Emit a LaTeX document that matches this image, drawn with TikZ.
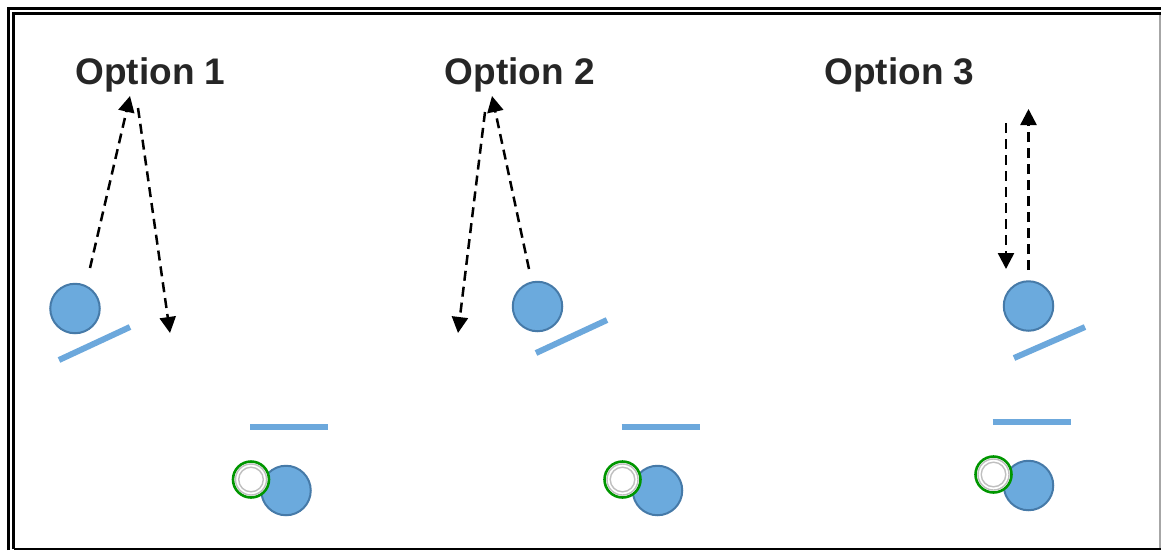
\documentclass[tikz,border=0pt]{standalone}
\usepackage{fontspec}
\setmainfont{Liberation Sans}
\usetikzlibrary{arrows.meta,positioning}

\definecolor{ballblue}{RGB}{107,170,221}
\definecolor{balledge}{RGB}{70,122,168}
\definecolor{barblue}{RGB}{108,168,220}
\definecolor{ringgreen}{RGB}{0,150,0}
\definecolor{titlegray}{RGB}{38,38,38}

\tikzset{
  ball/.style={circle,fill=ballblue,draw=balledge,line width=2pt,minimum size=49.5pt,inner sep=0pt},
  mirror/.style={draw=barblue,line width=6pt},
  ray/.style={dash pattern=on 10pt off 6pt,line width=2.5pt,-{Triangle[width=16pt,length=16pt]}},
  title/.style={font=\bfseries\fontsize{37}{40}\selectfont,text=titlegray,anchor=base},
  detector/.style={circle,draw=ringgreen,line width=2.6pt,fill=white,minimum size=36pt,inner sep=0pt},
  ring/.style={draw=gray!50,line width=1.4pt}
}

\begin{document}
\begin{tikzpicture}[x=1pt,y=-1pt]
\useasboundingbox (0,0) rectangle (1161,550);

% frame
\draw[line width=2.4pt] (8.5,550) -- (8.5,8.5) -- (1161,8.5);
\draw[line width=3pt] (13.8,549) -- (13.8,13.8) -- (1161,13.8);
\draw[line width=1.8pt] (13.8,549.2) -- (1161,549.2);
\draw[gray!70,line width=1.5pt] (1160.2,15) -- (1160.2,548);

% titles
\node[title] (opt1) at (150.5,84) {Option 1};
\node[title] (opt2) at (520,84) {Option 2};
\node[title] (opt3) at (899.5,84) {Option 3};

% upper balls and mirrors
\node[ball] (b1) at (75,308.5) {};
\node[ball] (b2) at (537.5,306.5) {};
\node[ball] (b3) at (1028.5,306) {};
\draw[mirror] (59,360) -- (130,327);
\draw[mirror] (536,353) -- (607,320);
\draw[mirror] (1014,358) -- (1085,327);

% ray ends
\coordinate (s1) at (90,268);      \coordinate (t1) at (130,96);
\coordinate (s1b) at (138,108);    \coordinate (t1b) at (170,333);
\coordinate (s2) at (529,269);     \coordinate (t2) at (492,96);
\coordinate (s2b) at (485,112);    \coordinate (t2b) at (458,333);
\coordinate (s3) at (1028.5,270);  \coordinate (t3) at (1028.5,109);
\coordinate (s3b) at (1006,123);   \coordinate (t3b) at (1006,269);

\draw[ray] (s1) -- (t1);
\draw[ray] (s1b) -- (t1b);
\draw[ray] (s2) -- (t2);
\draw[ray] (s2b) -- (t2b);
\draw[ray] (s3) -- (t3);
\draw[ray] (s3b) -- (t3b);

% lower groups
\foreach \n/\dx/\dy in {1/0/0,2/371.5/0,3/742.5/-5}{
  \draw[mirror] (250+\dx,427+\dy) -- (328+\dx,427+\dy);
  \node[ball] (c\n) at (286+\dx,490.5+\dy) {};
  \node[detector] (d\n) at (251+\dx,479.5+\dy) {};
  \draw[ring] (d\n) circle (15.5pt);
  \draw[ring] (d\n) circle (12.3pt);
}
\end{tikzpicture}
\end{document}
